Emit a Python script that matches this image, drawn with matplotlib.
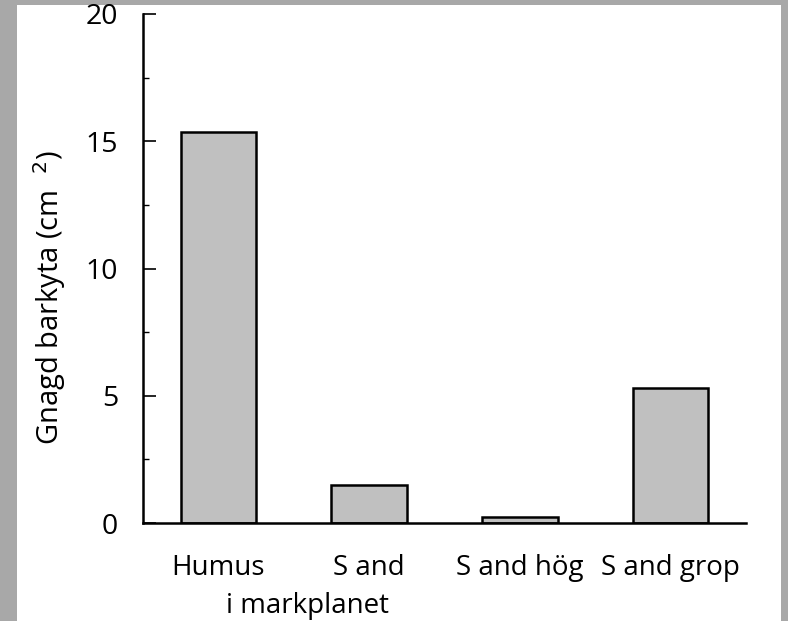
import numpy as np
import matplotlib
matplotlib.use('Agg')
import matplotlib.pyplot as plt
from matplotlib.patches import Rectangle
from matplotlib.ticker import MultipleLocator

# data
categories = ['Humus', 'S and', 'S and hög', 'S and grop']
values = [15.35, 1.5, 0.22, 5.3]
y_ticks = [0, 5, 10, 15, 20]

plt.rcParams['font.family'] = ['Open Sans', 'DejaVu Sans']

fig = plt.figure(figsize=(7.88, 6.21), dpi=100)
fig.patch.set_facecolor('#a8a8a8')
# white page inside the grey frame
fig.patches.append(Rectangle((17 / 788, 0), (781 - 17) / 788, (621 - 5) / 621,
                             transform=fig.transFigure, facecolor='white',
                             edgecolor='none', zorder=-5))

ax = fig.add_axes([143 / 788, 98 / 621, (746 - 143) / 788, (523 - 14) / 621])
ax.set_zorder(2)
ax.patch.set_alpha(0)

x = np.arange(len(categories))
ax.bar(x, values, width=0.5, color='#c0c0c0', edgecolor='black', linewidth=1.8)

ax.set_xlim(-0.5, 3.5)
ax.set_ylim(0, 20)
ax.set_yticks(y_ticks)
ax.yaxis.set_minor_locator(MultipleLocator(2.5))
ax.tick_params(axis='y', which='major', direction='in', length=9, width=1.2,
               labelsize=20.5, pad=18)
ax.tick_params(axis='y', which='minor', direction='in', length=4.5, width=1.0)
ax.set_xticks(x)
ax.set_xticklabels(categories, fontsize=20)
ax.tick_params(axis='x', length=0, pad=22)

for s in ['top', 'right']:
    ax.spines[s].set_visible(False)
for s in ['left', 'bottom']:
    ax.spines[s].set_linewidth(1.8)

# second line under "Humus"
ax.text(0.59, -0.163, 'i markplanet', transform=ax.get_xaxis_transform(),
        ha='center', va='center', fontsize=20)

fig.text(50 / 788, 0.521, 'Gnagd barkyta (cm  $^{2}$)', rotation=90,
         ha='center', va='center', fontsize=21)

fig.savefig('out.png', dpi=100, facecolor=fig.get_facecolor())
